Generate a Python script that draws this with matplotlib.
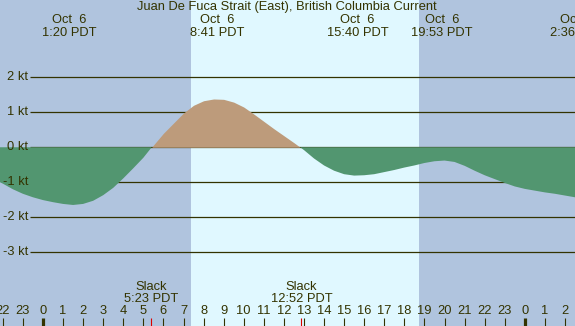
import numpy as np
import matplotlib
matplotlib.use('Agg')
import matplotlib.pyplot as plt

plt.rcParams['font.family'] = ['Liberation Sans', 'DejaVu Sans']

## Data (hours from Oct 6 00:00 PDT, current in knots)
hours = np.arange(-2.5, 27.01, 0.5)
speed = [-0.90, -1.04, -1.20, -1.33, -1.43, -1.51, -1.57, -1.62, -1.65, -1.62,
         -1.53, -1.37, -1.16, -0.89, -0.60, -0.30, 0.06, 0.40, 0.69, 0.98,
         1.20, 1.33, 1.38, 1.37, 1.29, 1.15, 0.95, 0.74, 0.53, 0.33,
         0.13, -0.08, -0.32, -0.52, -0.67, -0.77, -0.81, -0.80, -0.77, -0.71,
         -0.65, -0.58, -0.52, -0.45, -0.40, -0.38, -0.42, -0.53, -0.67, -0.80,
         -0.91, -1.02, -1.12, -1.19, -1.24, -1.29, -1.33, -1.38, -1.43, -1.47]
speed = np.array(speed)

title = 'Juan De Fuca Strait (East), British Columbia Current'
sunrise, sunset = 7.37, 18.72
event_hours = [1.33, 8.68, 15.67, 19.88, 26.6]
event_labels = ['1:20 PDT', '8:41 PDT', '15:40 PDT', '19:53 PDT', '2:36 PDT']
slack_hours = [5.38, 12.87]
slack_labels = ['5:23 PDT', '12:52 PDT']
kt_levels = [2, 1, 0, -1, -2, -3]
tick_hours = np.arange(-2, 27)

night = '#b0c4de'
day = '#e0f8ff'
ink = '#333300'
fs = 9.3

## Plot
fig = plt.figure(figsize=(5.75, 3.26), dpi=100)
ax = fig.add_axes([0, 0, 1, 1])
ax.set_xlim(-2.14, 26.5)
ax.set_ylim(-5.11, 4.21)
ax.axis('off')
fig.patch.set_facecolor(night)
ax.axvspan(sunrise, sunset, color=day, lw=0, zorder=0)

ax.hlines(kt_levels, -0.65, 27, color=ink, lw=0.9, zorder=1)
for k in kt_levels:
    ax.text(-0.75, k, f'{k} kt', ha='right', va='center', fontsize=fs, color=ink)

ax.fill_between(hours, speed, 0, where=speed <= 0, interpolate=True,
                color='#529670', lw=0, zorder=2)
ax.fill_between(hours, speed, 0, where=speed >= 0, interpolate=True,
                color='#bd9b7b', lw=0, zorder=2)

ax.text(12.15, 4.01, title, ha='center', va='center', fontsize=fs, color=ink)
for h, lab in zip(event_hours, event_labels):
    ax.text(h, 3.65, 'Oct  6', ha='center', va='center', fontsize=fs, color=ink)
    ax.text(h, 3.27, lab, ha='center', va='center', fontsize=fs, color=ink)

for h, lab in zip(slack_hours, slack_labels):
    ax.text(h, -3.99, 'Slack', ha='center', va='center', fontsize=fs, color=ink)
    ax.text(h, -4.34, lab, ha='center', va='center', fontsize=fs, color=ink)

for h in tick_hours:
    lw = 2.3 if h % 24 == 0 else 0.8
    ax.vlines(h, -5.11, -4.88, color=ink, lw=lw)
    ax.text(h, -4.69, str(h % 24), ha='center', va='center', fontsize=fs, color=ink)
ax.vlines(slack_hours, -5.11, -4.88, color='#dd0000', lw=0.8, zorder=3)

fig.savefig('out.png', dpi=100, facecolor=night)
